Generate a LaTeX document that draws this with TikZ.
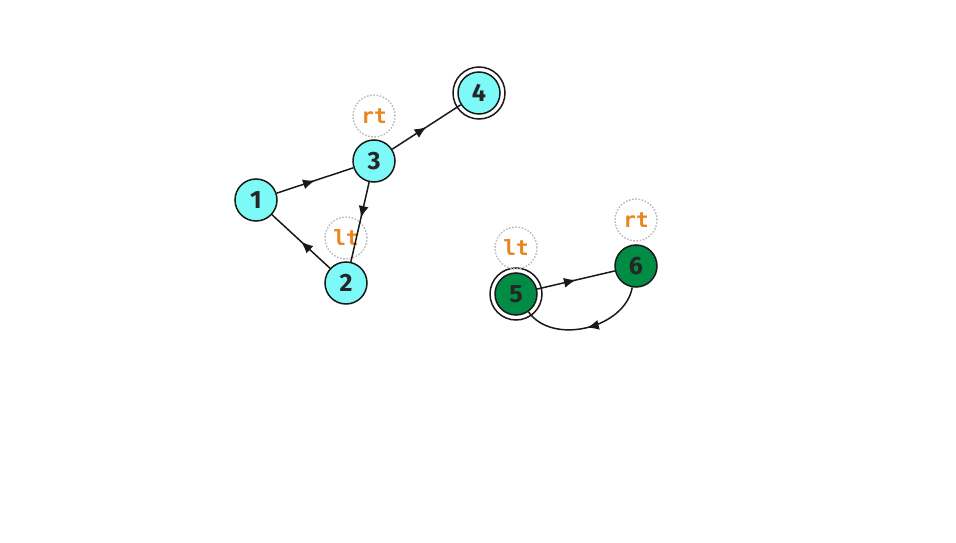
\documentclass[tikz,border=0pt]{standalone}
\usepackage{fontspec}
\setmainfont{Fira Sans}
\newfontfamily\labfont{DejaVu Sans Mono}
\usetikzlibrary{decorations.markings,arrows.meta}
\definecolor{cyanfill}{HTML}{7DFAF8}
\definecolor{greenfill}{HTML}{008C45}
\definecolor{labcol}{HTML}{E8851F}
\tikzset{
  st/.style={circle,draw=black!90,line width=1.5pt,minimum size=42pt,inner sep=0pt,font=\fontsize{25}{25}\selectfont\bfseries,text=black!85},
  stc/.style={st,fill=cyanfill},
  stg/.style={st,fill=greenfill},
  lab/.style={circle,draw=gray!55,dash pattern=on 1.6pt off 1.6pt,line width=1.4pt,minimum size=42pt,inner sep=0pt,text=labcol,font=\labfont\bfseries\fontsize{21}{21}\selectfont},
  edge/.style={draw=black!90,line width=1.5pt,postaction={decorate},decoration={markings,mark=at position #1 with {\arrow{Latex[length=12pt,width=10pt]}}}},
  edge/.default=0.5
}
\begin{document}
\begin{tikzpicture}[x=1pt,y=-1pt]
\useasboundingbox (0,0) rectangle (956,543);
\node[stc] (n1) at (256,200) {1};
\node[stc] (n2) at (346,283) {2};
\node[stc] (n3) at (374,161) {3};
\node[stc] (n4) at (479,93) {4};
\node[stg] (n5) at (516,294) {5};
\node[stg] (n6) at (636,266) {6};
\draw[black!90,line width=1.5pt] (n4.center) circle (26pt);
\draw[black!90,line width=1.5pt] (n5.center) circle (26pt);
\node[lab] (l3) at (374,116) {rt};
\node[lab] (l2) at (346,238) {lt};
\node[lab] (l5) at (516,248) {lt};
\node[lab] (l6) at (636,220) {rt};
\path[edge] (n1) -- (n3);
\path[edge] (n3) -- (n4);
\path[edge=0.45] (n3) -- (n2);
\path[edge] (n2) -- (n1);
\path[edge] (n5) -- (n6);
\path[edge] (n6.-100) to[out=-100,in=-55] (n5.-55);
\end{tikzpicture}
\end{document}
